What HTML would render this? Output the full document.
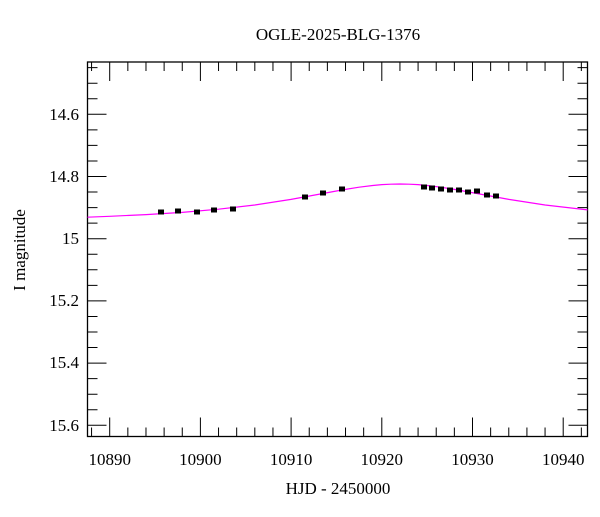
<!DOCTYPE html><html><head><style>body{margin:0;background:#fff}</style></head><body>
<svg width="600" height="512" xmlns="http://www.w3.org/2000/svg" font-family="Liberation Serif, serif" font-size="17">
<rect width="600" height="512" fill="#fff"/>
<text x="338" y="40" text-anchor="middle">OGLE-2025-BLG-1376</text>
<text x="338" y="494" text-anchor="middle">HJD - 2450000</text>
<text transform="translate(25,250) rotate(-90)" text-anchor="middle">I magnitude</text>
<rect x="87.5" y="62" width="500" height="374.5" fill="none" stroke="#000" stroke-width="1.3"/>
<g stroke="#000" stroke-width="1">
<path d="M91.56,436.5v-9M127.84,436.5v-9M145.98,436.5v-9M164.12,436.5v-9M182.26,436.5v-9M218.54,436.5v-9M236.68,436.5v-9M254.82,436.5v-9M272.96,436.5v-9M309.24,436.5v-9M327.38,436.5v-9M345.52,436.5v-9M363.66,436.5v-9M399.94,436.5v-9M418.08,436.5v-9M436.22,436.5v-9M454.36,436.5v-9M490.64,436.5v-9M508.78,436.5v-9M526.92,436.5v-9M545.06,436.5v-9M581.34,436.5v-9"/>
<path d="M91.56,62v9M127.84,62v9M145.98,62v9M164.12,62v9M182.26,62v9M218.54,62v9M236.68,62v9M254.82,62v9M272.96,62v9M309.24,62v9M327.38,62v9M345.52,62v9M363.66,62v9M399.94,62v9M418.08,62v9M436.22,62v9M454.36,62v9M490.64,62v9M508.78,62v9M526.92,62v9M545.06,62v9M581.34,62v9"/>
<path d="M109.7,436.5v-19M200.4,436.5v-19M291.1,436.5v-19M381.8,436.5v-19M472.5,436.5v-19M563.2,436.5v-19M109.7,62v19M200.4,62v19M291.1,62v19M381.8,62v19M472.5,62v19M563.2,62v19"/>
<path d="M87.5,67.65h10M87.5,83.2h10M87.5,98.75h10M87.5,129.85h10M87.5,145.4h10M87.5,160.95h10M87.5,192.05h10M87.5,207.6h10M87.5,223.15h10M87.5,254.25h10M87.5,269.8h10M87.5,285.35h10M87.5,316.45h10M87.5,332h10M87.5,347.55h10M87.5,378.65h10M87.5,394.2h10M87.5,409.75h10"/>
<path d="M587.5,67.65h-10M587.5,83.2h-10M587.5,98.75h-10M587.5,129.85h-10M587.5,145.4h-10M587.5,160.95h-10M587.5,192.05h-10M587.5,207.6h-10M587.5,223.15h-10M587.5,254.25h-10M587.5,269.8h-10M587.5,285.35h-10M587.5,316.45h-10M587.5,332h-10M587.5,347.55h-10M587.5,378.65h-10M587.5,394.2h-10M587.5,409.75h-10"/>
<path d="M87.5,114.3h19M87.5,176.5h19M87.5,238.7h19M87.5,300.9h19M87.5,363.1h19M87.5,425.3h19M587.5,114.3h-19M587.5,176.5h-19M587.5,238.7h-19M587.5,300.9h-19M587.5,363.1h-19M587.5,425.3h-19"/>
</g>
<g text-anchor="middle">
<text x="109.7" y="465">10890</text><text x="200.4" y="465">10900</text><text x="291.1" y="465">10910</text><text x="381.8" y="465">10920</text><text x="472.5" y="465">10930</text><text x="563.2" y="465">10940</text>
</g>
<g text-anchor="end">
<text x="79" y="120">14.6</text><text x="79" y="182">14.8</text><text x="79" y="244">15</text><text x="79" y="306">15.2</text><text x="79" y="368">15.4</text><text x="79" y="431">15.6</text>
</g>
<path d="M87.5,217.2L109.7,216.3L146,214.6L182.3,212.4L218.5,209.2L254.8,205L291.1,199.4L318.3,194.4L336.4,191L345.5,189.4L359.1,187.2L372.7,185.5L381.8,184.65L390.9,184.2L399.9,184L408.9,184.2L418.1,184.65L427.2,185.5L440.8,187.2L454.4,189.4L463.4,191L481.6,194.4L508.8,199.4L545.1,205L587.5,209.9" fill="none" stroke="#f0f" stroke-width="1.2" stroke-linejoin="round"/>
<g fill="#000" stroke="#000">
<rect x="158.5" y="210" width="5" height="4"/><rect x="175.5" y="209" width="5" height="4"/><rect x="194.5" y="210" width="5" height="4"/><rect x="211.5" y="208" width="5" height="4"/><rect x="230.5" y="207" width="5" height="4"/><rect x="302.5" y="195" width="5" height="4"/><rect x="320.5" y="191" width="5" height="4"/><rect x="339.5" y="187" width="5" height="4"/><rect x="421.5" y="185" width="5" height="4"/><rect x="429.5" y="186" width="5" height="4"/><rect x="438.5" y="187" width="5" height="4"/><rect x="447.5" y="188" width="5" height="4"/><rect x="456.5" y="188" width="5" height="4"/><rect x="465.5" y="190" width="5" height="4"/><rect x="474.5" y="189" width="5" height="4"/><rect x="484.5" y="193" width="5" height="4"/><rect x="493.5" y="194" width="5" height="4"/>
</g>
</svg></body></html>
